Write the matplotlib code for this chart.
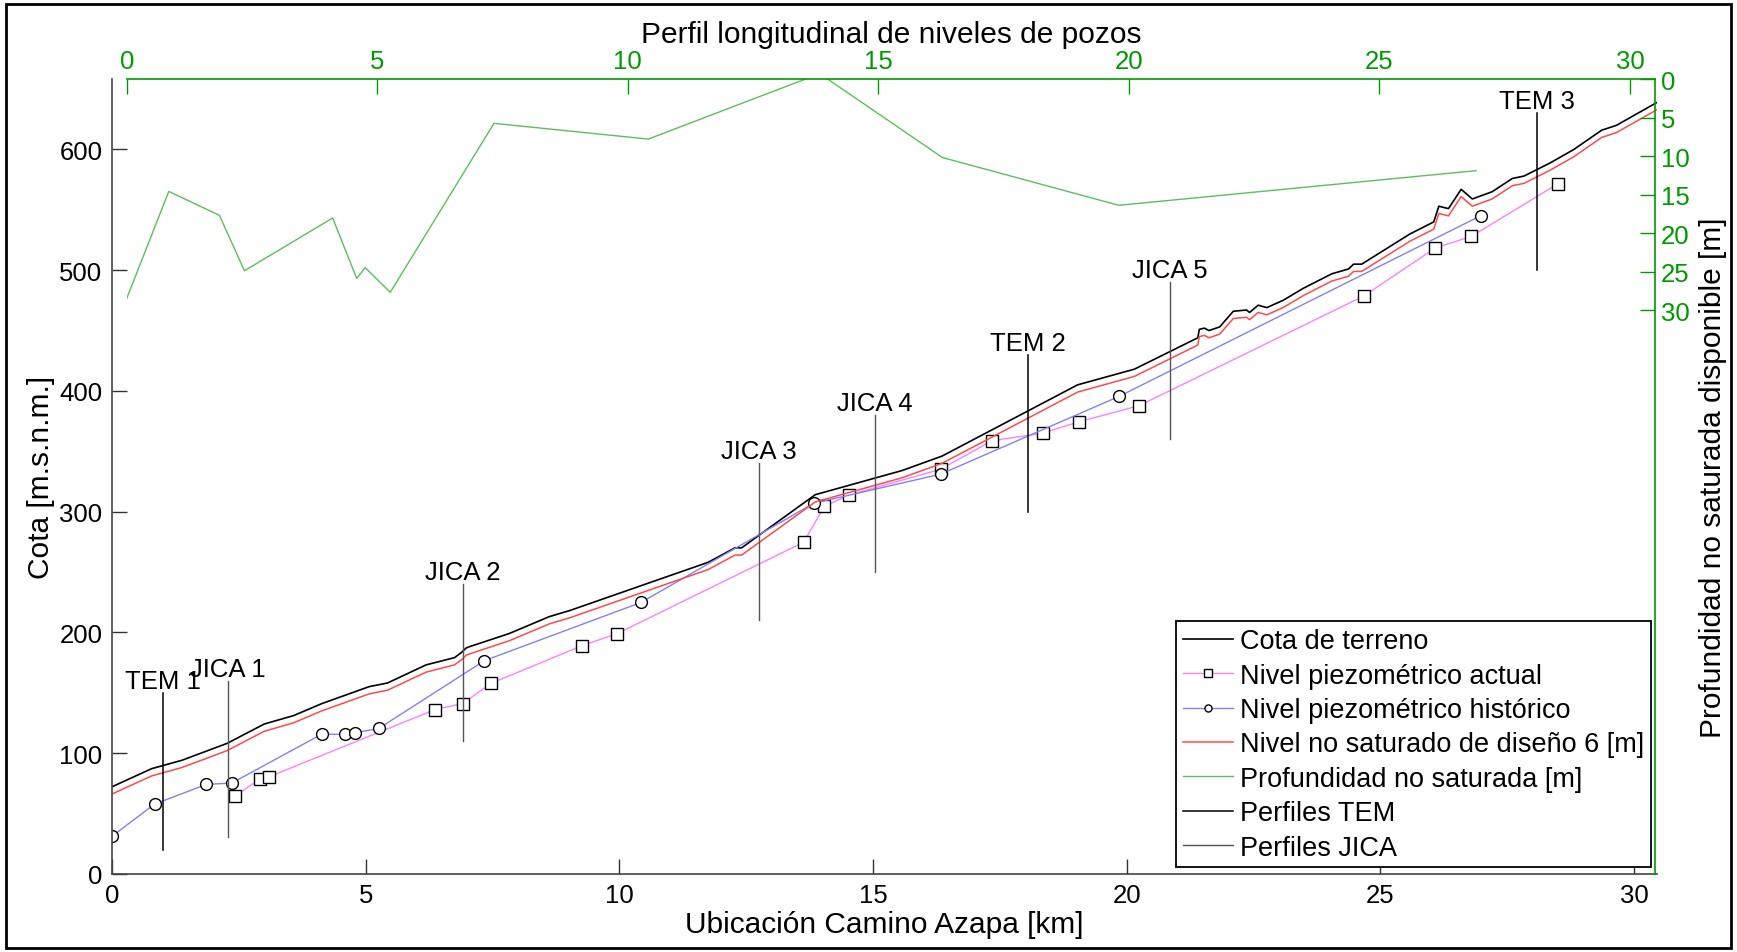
import numpy as np
import matplotlib
matplotlib.use("Agg")
import matplotlib.pyplot as plt
from matplotlib.patches import Rectangle

plt.rcParams['font.family'] = ['Liberation Sans', 'DejaVu Sans']

# terreno (cota de terreno, m.s.n.m.)
terrain_x = [0, 0.78, 1.38, 2.27, 3.0, 3.58, 4.14, 5.07, 5.43, 6.19, 6.75, 6.88, 6.98, 7.04,
             7.83, 8.62, 9.02, 11.75, 12.28, 12.41, 13.86, 15.57, 16.36, 19.03, 20.15, 21.4,
             21.43, 21.53, 21.62, 21.83, 22.1, 22.36, 22.42, 22.59, 22.76, 23.08, 23.48, 24.04,
             24.37, 24.47, 24.63, 25.58, 26.05, 26.15, 26.34, 26.59, 26.81, 27.2, 27.6, 27.83,
             28.35, 28.81, 29.36, 29.65, 30.45]
terrain_y = [72, 87, 94, 108, 124, 131, 141, 155, 158, 173, 179, 183, 187, 188,
             199, 213, 218, 258, 270, 270, 314, 334, 346, 405, 418, 444,
             451, 452, 450, 453, 466, 467, 465, 471, 469, 475, 485, 497,
             501, 505, 505, 530, 540, 553, 551, 567, 559, 565, 576, 578,
             589, 600, 616, 620, 639]
design_depth = 6  # nivel no saturado de diseño [m]

# nivel piezometrico actual
actual_x = [2.43, 2.92, 3.10, 6.37, 6.91, 7.47, 9.27, 9.96, 13.63, 14.04, 14.53, 16.33,
            17.34, 18.34, 19.06, 20.24, 24.67, 26.08, 26.79, 28.49]
actual_y = [64.6, 78.5, 80.4, 136, 141, 157.7, 189, 199, 274.6, 304.4, 313.8, 335,
            358.7, 364.9, 374.5, 387.7, 478.6, 518.4, 528, 571.4]

# nivel piezometrico historico
hist_x = [0, 0.84, 1.86, 2.36, 4.13, 4.59, 4.78, 5.26, 7.34, 10.43, 13.83, 16.33, 19.85, 26.98]
hist_y = [31, 57.7, 74, 75.1, 115.5, 115.5, 116.6, 120.4, 176.5, 224.8, 306.9, 331, 395.5, 545.2]

# profundidad no saturada disponible
depth_x = [0, 0.84, 1.85, 2.35, 4.11, 4.59, 4.76, 5.26, 7.33, 10.41, 13.83, 16.28, 19.8, 26.93]
depth_y = [28.5, 14.6, 17.7, 24.9, 18.05, 25.9, 24.5, 27.7, 5.76, 7.8, -0.7, 10.2, 16.4, 11.9]

# perfiles
tem_names = ['TEM 1', 'TEM 2', 'TEM 3']
tem_x = [1.0, 18.06, 28.09]
tem_bot = [20, 300, 500]
tem_top = [150, 430, 630]

jica_names = ['JICA 1', 'JICA 2', 'JICA 3', 'JICA 4', 'JICA 5']
jica_x = [2.28, 6.92, 12.75, 15.03, 20.85]
jica_bot = [30, 110, 210, 250, 360]
jica_top = [160, 240, 340, 380, 490]

green_ax = '#009a00'
fs = 18.5
lab_fs = 21.5

fig = plt.figure(figsize=(17.37, 9.53), dpi=100)
ax = fig.add_axes([0.06448, 0.08216, 0.88946, 0.83389])
ax2 = fig.add_axes([0.07294, 0.08216, 0.87985, 0.83389])

red_y = np.array(terrain_y) - design_depth
h1, = ax.plot(terrain_x, terrain_y, color='black', lw=1.2)
h2, = ax.plot(actual_x, actual_y, color='#ff80ff', lw=1.0, marker='s', ms=8.5,
              mfc='white', mec='black', mew=1.0)
h3, = ax.plot(hist_x, hist_y, color='#8080ff', lw=1.0, marker='o', ms=8.5,
              mfc='white', mec='black', mew=1.0)
h4, = ax.plot(terrain_x, red_y, color='#ff4a4a', lw=1.1)
for x, b, t, n in zip(tem_x, tem_bot, tem_top, tem_names):
    h6, = ax.plot([x, x], [b, t], color='black', lw=1.1)
    ax.text(x, t, n, ha='center', va='bottom', fontsize=fs)
for x, b, t, n in zip(jica_x, jica_bot, jica_top, jica_names):
    h7, = ax.plot([x, x], [b, t], color='#555555', lw=1.0)
    ax.text(x, t, n, ha='center', va='bottom', fontsize=fs)

ax.set_xlim(0, 30.45)
ax.set_ylim(0, 658.4)
ax.set_xticks(np.arange(0, 31, 5))
ax.set_yticks(np.arange(0, 601, 100))
ax.tick_params(direction='in', length=11, width=1, labelsize=fs, color='#333333', pad=7)
for s in ['top', 'right']:
    ax.spines[s].set_visible(False)
for s in ['left', 'bottom']:
    ax.spines[s].set_color('#444444')
    ax.spines[s].set_linewidth(1.2)
ax.set_xlabel('Ubicación Camino Azapa [km]', fontsize=lab_fs, labelpad=2)
ax.set_ylabel('Cota [m.s.n.m.]', fontsize=lab_fs, labelpad=3)

h5, = ax2.plot(depth_x, depth_y, color='#5cbf5c', lw=1.0)
ax2.patch.set_visible(False)
ax2.set_xlim(0, 30.5)
ax2.set_ylim(103.2, 0)
ax2.xaxis.tick_top()
ax2.yaxis.tick_right()
ax2.yaxis.set_label_position('right')
ax2.set_xticks(np.arange(0, 31, 5))
ax2.set_yticks(np.arange(0, 31, 5))
ax2.tick_params(direction='in', length=11, width=1, labelsize=fs, color=green_ax,
                labelcolor=green_ax, pad=4)
for s in ['left', 'bottom']:
    ax2.spines[s].set_visible(False)
for s in ['top', 'right']:
    ax2.spines[s].set_color(green_ax)
    ax2.spines[s].set_linewidth(1.2)
ax2.set_ylabel('Profundidad no saturada disponible [m]', fontsize=lab_fs, labelpad=7)
ax2.set_title('Perfil longitudinal de niveles de pozos', fontsize=lab_fs, pad=27)

leg = ax2.legend([h1, h2, h3, h4, h5, h6, h7],
                 ['Cota de terreno', 'Nivel piezométrico actual', 'Nivel piezométrico histórico',
                  'Nivel no saturado de diseño 6 [m]', 'Profundidad no saturada [m]',
                  'Perfiles TEM', 'Perfiles JICA'],
                 loc='lower right', bbox_to_anchor=(0.9974, 0.008), borderaxespad=0,
                 fontsize=19.5, fancybox=False, framealpha=1, edgecolor='black',
                 handlelength=1.85, handletextpad=0.25, labelspacing=0.31, borderpad=0.25,
                 markerscale=0.6)
leg.get_frame().set_linewidth(1.3)

fig.patches.append(Rectangle((0.0035, 0.004), 0.993, 0.9908, transform=fig.transFigure,
                             fill=False, edgecolor='black', lw=2))

fig.savefig('out.png', dpi=100)
